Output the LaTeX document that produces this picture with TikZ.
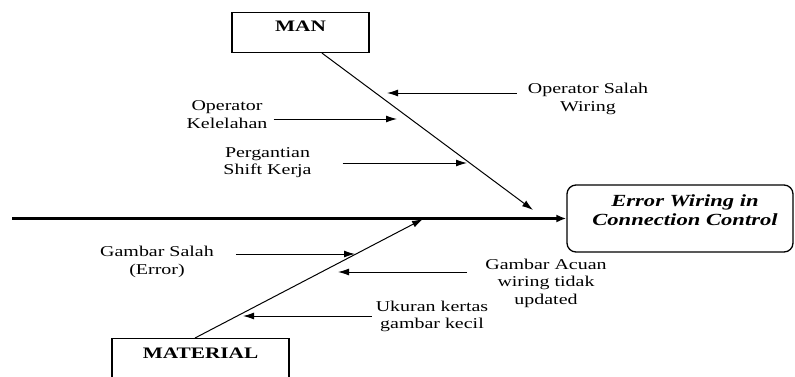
\documentclass[tikz,border=0pt]{standalone}
\usepackage{fontspec}
\setmainfont{Liberation Serif}[FakeStretch=1.33]
\usetikzlibrary{arrows.meta,calc}
\begin{document}
\begin{tikzpicture}[x=1pt,y=-1pt,
  lbl/.style={font=\fontsize{15}{17.5}\selectfont, align=center, inner sep=3pt},
  catbox/.style={draw, line width=1.1pt, font=\fontsize{16}{19}\selectfont\bfseries, inner sep=0pt, minimum width=137pt, minimum height=40pt, anchor=north},
  effbox/.style={draw, line width=1.3pt, rounded corners=9pt, font=\fontsize{17}{19}\selectfont\bfseries\itshape, inner sep=0pt, minimum width=226pt, minimum height=67pt},
  bone/.style={line width=1pt, -{Latex[length=11pt,width=7pt]}},
  spine/.style={line width=2.4pt, -{Latex[length=10pt,width=8pt]}},
  cause/.style={line width=1pt, -{Latex[length=11pt,width=7pt]}}
]
\useasboundingbox (0,0) rectangle (795,376);
\clip (0,0) rectangle (795,376);

% category and effect boxes
\node[catbox] (man) at (300.5,12) {\raisebox{6pt}[\height][\depth]{MAN}};
\node[catbox, minimum width=177pt, minimum height=60pt] (material) at (200.5,338) {\raisebox{15pt}[\height][\depth]{MATERIAL}};
\node[effbox] (effect) at (680,218.5) {\hspace*{10pt}\raisebox{6pt}[\height][\depth]{\begin{tabular}{@{}c@{}}Error Wiring in\\Connection Control\end{tabular}}};

% cause labels
\node[lbl] (osw) at (588,99) {Operator Salah\\Wiring};
\node[lbl] (kel) at (227,114.5) {Operator\\Kelelahan};
\node[lbl] (psk) at (267.5,162.5) {Pergantian\\Shift Kerja};
\node[lbl] (gse) at (157,262) {Gambar Salah\\(Error)};
\node[lbl] (gaw) at (546,283) {Gambar Acuan\\wiring tidak\\updated};
\node[lbl] (ukg) at (432,316.5) {Ukuran kertas\\gambar kecil};

% free ends
\coordinate (spineStart) at (12,218.5);
\coordinate (manTip) at (533,210);
\coordinate (matTip) at (423,219);
\coordinate (tOsw) at (387,93);
\coordinate (tKel) at (397,119);
\coordinate (tPsk) at (467,163);
\coordinate (tGse) at (355,254);
\coordinate (tGaw) at (338,272);
\coordinate (tUkg) at (243,316);

% spine and bones
\draw[spine] (spineStart) -- (effect.west);
\draw[bone] ([xshift=21.5pt]man.south) -- (manTip);
\draw[bone] ([xshift=-5.5pt]material.north) -- (matTip);

% cause arrows
\draw[cause] ($(osw.west |- tOsw)+(-8,0)$) -- (tOsw);
\draw[cause] ($(kel.east |- tKel)+(3,0)$) -- (tKel);
\draw[cause] ($(psk.east |- tPsk)+(28,0)$) -- (tPsk);
\draw[cause] ($(gse.east |- tGse)+(19,0)$) -- (tGse);
\draw[cause] ($(gaw.west |- tGaw)+(-15,0)$) -- (tGaw);
\draw[cause] ($(ukg.west |- tUkg)+(-1,0)$) -- (tUkg);
\end{tikzpicture}
\end{document}
